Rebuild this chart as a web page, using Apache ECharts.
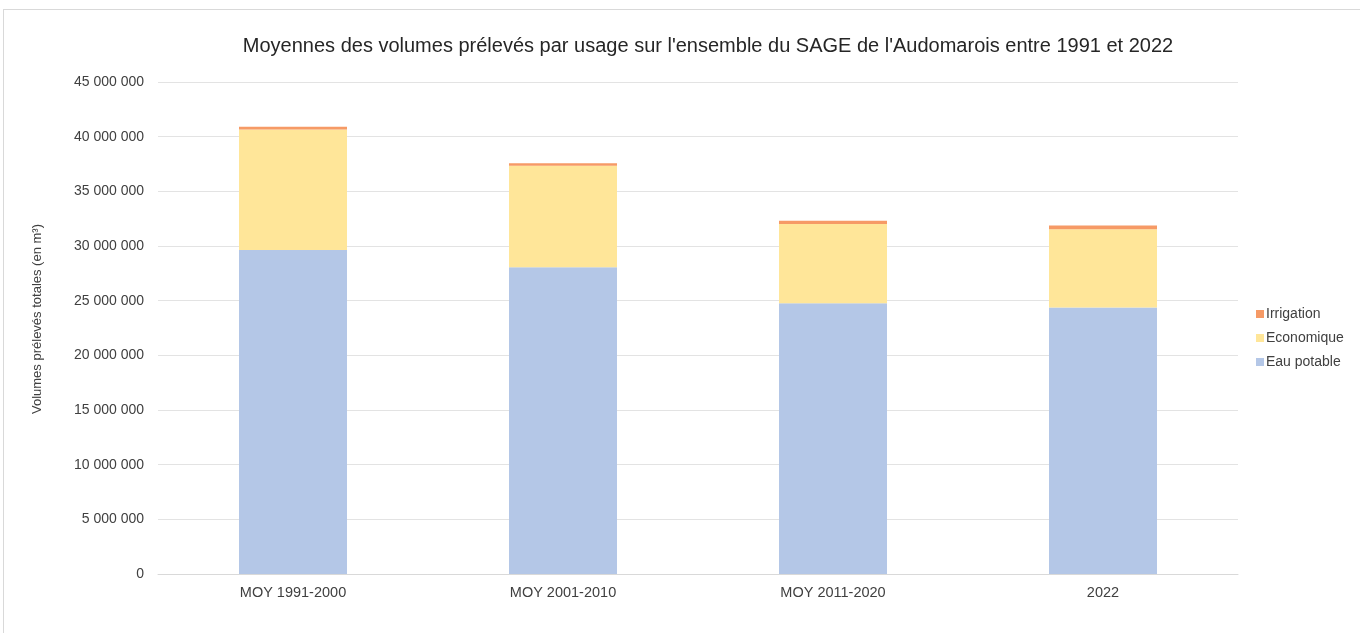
<!DOCTYPE html>
<html>
<head>
<meta charset="utf-8">
<script src="https://cdn.jsdelivr.net/npm/echarts@6/dist/echarts.min.js"></script>
<style>
html, body { margin: 0; padding: 0; background: #fff; }
.frame {
  position: absolute; left: 3px; top: 9px; width: 1357px; height: 624px;
  border-top: 1px solid #d9d9d9; border-left: 1px solid #d9d9d9;
  box-sizing: border-box;
}
#chart { position: absolute; left: 0; top: 0; width: 1360px; height: 633px; }
</style>
</head>
<body>
<div class="frame"></div>
<div id="chart"></div>
<script>
const categories = ['MOY 1991-2000', 'MOY 2001-2010', 'MOY 2011-2020', '2022']
const eauPotable = [29640000, 28060000, 24770000, 24370000]
const economique = [11020000, 9270000, 7250000, 7170000]
const irrigation = [240000, 240000, 280000, 330000]
const yTicks = [0, 5000000, 10000000, 15000000, 20000000, 25000000, 30000000, 35000000, 40000000, 45000000]

// espace comme séparateur de milliers
const fmt = v => String(v).replace(/\B(?=(\d{3})+(?!\d))/g, ' ')

const chart = echarts.init(document.getElementById('chart'))
const font = 'Liberation Sans, Arial, sans-serif'

chart.setOption({
  animation: false,
  textStyle: { fontFamily: font },
  title: {
    text: "Moyennes des volumes prélevés par usage sur l'ensemble du SAGE de l'Audomarois entre 1991 et 2022",
    left: 703, top: 31, textAlign: 'center',
    textStyle: { fontSize: 20, fontWeight: 'normal', color: '#262626', fontFamily: font }
  },
  legend: {
    orient: 'vertical', left: 1251, top: 302, itemGap: 10,
    itemWidth: 8, itemHeight: 8, icon: 'rect',
    textStyle: { fontSize: 14, color: '#404040', fontFamily: font, padding: [0, 0, 0, -3] },
    data: ['Irrigation', 'Economique', 'Eau potable']
  },
  grid: { left: 158, right: 122, top: 82, bottom: 59 },
  xAxis: {
    type: 'category', data: categories,
    axisLine: { show: true, lineStyle: { color: '#d9d9d9' } },
    axisTick: { show: false },
    axisLabel: { fontSize: 14.5, color: '#404040', margin: 11 }
  },
  yAxis: {
    type: 'value', min: yTicks[0], max: yTicks[yTicks.length - 1], interval: 5000000,
    name: 'Volumes prélevés totales (en m³)', nameLocation: 'middle', nameGap: 114,
    nameTextStyle: { fontSize: 13, color: '#404040', padding: [0, 0, 0, 18] },
    axisLine: { show: false }, axisTick: { show: false },
    splitLine: { lineStyle: { color: '#e3e3e3' } },
    axisLabel: { fontSize: 14, color: '#404040', margin: 14, formatter: v => fmt(v) }
  },
  series: [
    { name: 'Eau potable', type: 'bar', stack: 'v', data: eauPotable, barWidth: 108, itemStyle: { color: '#b4c7e7' } },
    { name: 'Economique', type: 'bar', stack: 'v', data: economique, itemStyle: { color: '#ffe699' } },
    { name: 'Irrigation', type: 'bar', stack: 'v', data: irrigation, itemStyle: { color: '#f69a66' } }
  ]
})
</script>
</body>
</html>
